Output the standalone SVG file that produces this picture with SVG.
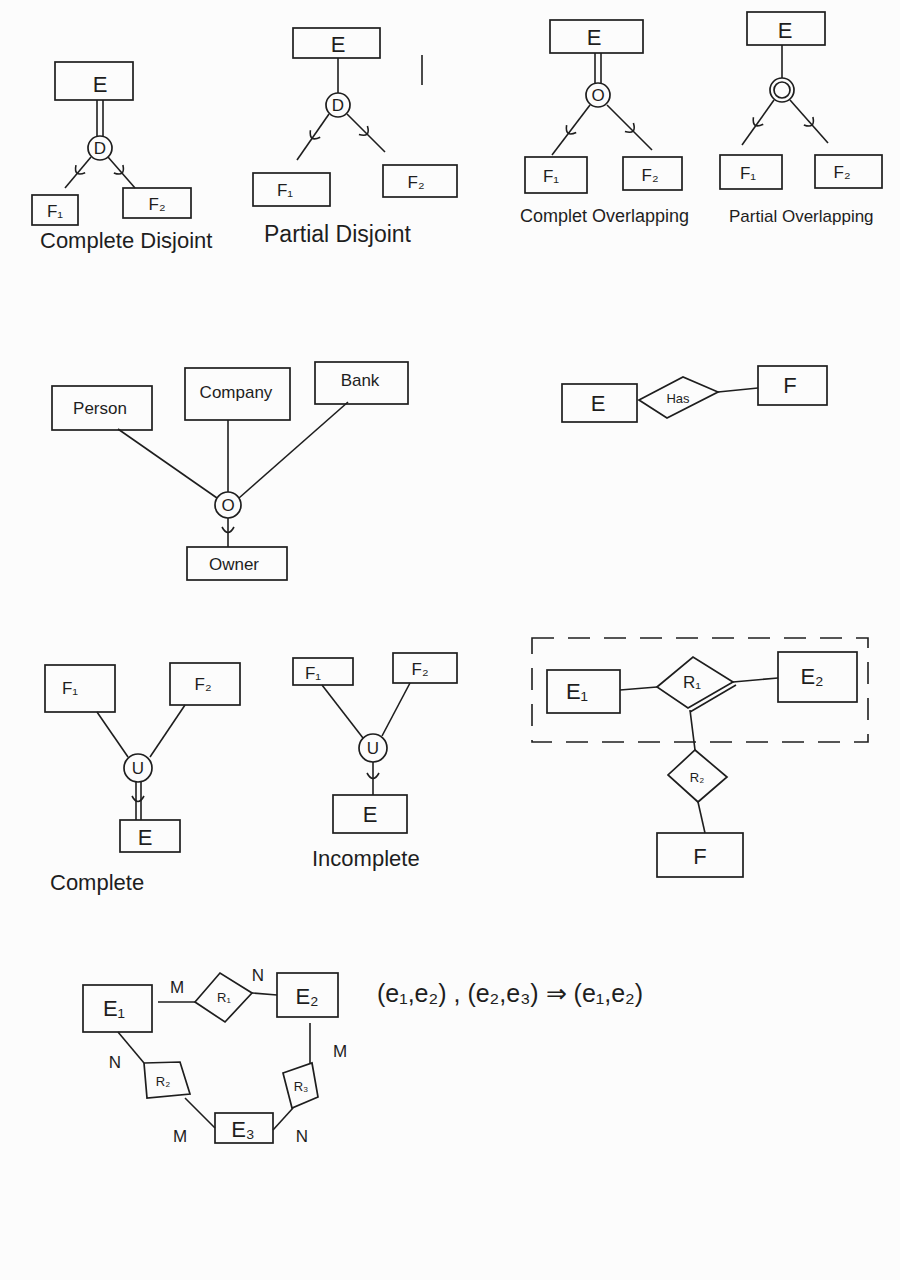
<svg xmlns="http://www.w3.org/2000/svg" width="900" height="1280" viewBox="0 0 900 1280">
<style>
.bg{fill:#fcfcfc}
.box{fill:none;stroke:#1e1e1e;stroke-width:1.7}
.ln{fill:none;stroke:#1e1e1e;stroke-width:1.6}
.dash{fill:none;stroke:#1e1e1e;stroke-width:1.6;stroke-dasharray:22 14}
.t{font-family:"Liberation Sans",Arial,sans-serif;fill:#1e1e1e;text-anchor:middle}
.big{font-size:22px}
.mid{font-size:17px}
.sm{font-size:13px}
.cap{font-family:"Liberation Sans",Arial,sans-serif;fill:#1e1e1e;font-size:22px}
</style>
<defs>
<path id="cup" d="M-6,-4 Q0,7 6,-4" fill="none" stroke="#1e1e1e" stroke-width="1.6"/>
</defs>
<rect class="bg" x="0" y="0" width="900" height="1280"/>

<!-- Group 1: Complete Disjoint -->
<g id="cd-E"><rect class="box" x="55" y="62" width="78" height="38"/><text class="t big" x="100" y="92">E</text></g>
<g id="cd-D"><circle class="box" cx="100" cy="148" r="12"/><text class="t mid" x="100" y="154">D</text></g>
<g id="cd-F1"><rect class="box" x="32" y="195" width="46" height="30"/><text class="t mid" x="55" y="217">F₁</text></g>
<g id="cd-F2"><rect class="box" x="123" y="188" width="68" height="30"/><text class="t mid" x="157" y="210">F₂</text></g>
<text class="cap" x="40" y="248">Complete Disjoint</text>

<!-- Group 2: Partial Disjoint -->
<g id="pd-E"><rect class="box" x="293" y="28" width="87" height="30"/><text class="t big" x="338" y="52">E</text></g>
<g id="pd-D"><circle class="box" cx="338" cy="105" r="12"/><text class="t mid" x="338" y="111">D</text></g>
<g id="pd-F1"><rect class="box" x="253" y="173" width="77" height="33"/><text class="t mid" x="285" y="196">F₁</text></g>
<g id="pd-F2"><rect class="box" x="383" y="165" width="74" height="32"/><text class="t mid" x="416" y="188">F₂</text></g>
<text class="cap" x="264" y="242" style="font-size:23px">Partial Disjoint</text>

<!-- Group 3: Complete Overlapping -->
<g id="co-E"><rect class="box" x="550" y="20" width="93" height="33"/><text class="t big" x="594" y="45">E</text></g>
<g id="co-O"><circle class="box" cx="598" cy="95" r="12"/><text class="t mid" x="598" y="101">O</text></g>
<g id="co-F1"><rect class="box" x="525" y="157" width="62" height="36"/><text class="t mid" x="551" y="182">F₁</text></g>
<g id="co-F2"><rect class="box" x="623" y="157" width="59" height="33"/><text class="t mid" x="650" y="181">F₂</text></g>
<text class="cap" x="520" y="222" style="font-size:18px">Complet Overlapping</text>

<!-- Group 4: Partial Overlapping -->
<g id="po-E"><rect class="box" x="747" y="12" width="78" height="33"/><text class="t big" x="785" y="38">E</text></g>
<g id="po-O"><circle class="box" cx="782" cy="90" r="12"/><circle class="box" cx="782" cy="90" r="8"/></g>
<g id="po-F1"><rect class="box" x="720" y="155" width="62" height="34"/><text class="t mid" x="748" y="179">F₁</text></g>
<g id="po-F2"><rect class="box" x="815" y="155" width="67" height="33"/><text class="t mid" x="842" y="178">F₂</text></g>
<text class="cap" x="729" y="222" style="font-size:17px">Partial Overlapping</text>

<!-- Group 5: Union Owner -->
<g id="u-Person"><rect class="box" x="52" y="386" width="100" height="44"/><text class="t mid" x="100" y="414">Person</text></g>
<g id="u-Company"><rect class="box" x="185" y="368" width="105" height="52"/><text class="t mid" x="236" y="398">Company</text></g>
<g id="u-Bank"><rect class="box" x="315" y="362" width="93" height="42"/><text class="t mid" x="360" y="386">Bank</text></g>
<g id="u-O"><circle class="box" cx="228" cy="505" r="13"/><text class="t mid" x="228" y="511">O</text></g>
<g id="u-Owner"><rect class="box" x="187" y="547" width="100" height="33"/><text class="t mid" x="234" y="570">Owner</text></g>

<!-- Group 6: E Has F -->
<g id="h-E"><rect class="box" x="562" y="384" width="75" height="38"/><text class="t big" x="598" y="411">E</text></g>
<g id="h-Has"><polygon class="box" points="639,400 683,377 718,392 667,418"/><text class="t sm" x="678" y="403">Has</text></g>
<g id="h-F"><rect class="box" x="758" y="366" width="69" height="39"/><text class="t big" x="790" y="393">F</text></g>

<!-- Group 7: Complete union -->
<g id="c-F1"><rect class="box" x="45" y="665" width="70" height="47"/><text class="t mid" x="70" y="694">F₁</text></g>
<g id="c-F2"><rect class="box" x="170" y="663" width="70" height="42"/><text class="t mid" x="203" y="690">F₂</text></g>
<g id="c-U"><circle class="box" cx="138" cy="768" r="14"/><text class="t mid" x="138" y="774">U</text></g>
<g id="c-E"><rect class="box" x="120" y="820" width="60" height="32"/><text class="t big" x="145" y="845">E</text></g>
<text class="cap" x="50" y="890">Complete</text>

<!-- Group 8: Incomplete union -->
<g id="i-F1"><rect class="box" x="293" y="658" width="60" height="27"/><text class="t mid" x="313" y="679">F₁</text></g>
<g id="i-F2"><rect class="box" x="393" y="653" width="64" height="30"/><text class="t mid" x="420" y="675">F₂</text></g>
<g id="i-U"><circle class="box" cx="373" cy="748" r="14"/><text class="t mid" x="373" y="754">U</text></g>
<g id="i-E"><rect class="box" x="333" y="795" width="74" height="38"/><text class="t big" x="370" y="822">E</text></g>
<text class="cap" x="312" y="866">Incomplete</text>

<!-- Group 9: Aggregation -->
<g id="a-agg"><rect class="dash" x="532" y="638" width="336" height="104"/></g>
<g id="a-E1"><rect class="box" x="547" y="670" width="73" height="43"/><text class="t big" x="577" y="699">E₁</text></g>
<g id="a-R1"><polygon class="box" points="657,687 693,657 733,682 688,708"/><line class="ln" x1="690" y1="712" x2="736" y2="685"/><text class="t mid" x="692" y="688">R₁</text></g>
<g id="a-E2"><rect class="box" x="778" y="652" width="79" height="50"/><text class="t big" x="812" y="684">E₂</text></g>
<g id="a-R2"><polygon class="box" points="695,750 727,777 698,802 668,775"/><text class="t sm" x="697" y="782">R₂</text></g>
<g id="a-F"><rect class="box" x="657" y="833" width="86" height="44"/><text class="t big" x="700" y="864">F</text></g>

<!-- Group 10: ternary cycle -->
<g id="t-E1"><rect class="box" x="83" y="985" width="69" height="47"/><text class="t big" x="114" y="1016">E₁</text></g>
<g id="t-R1"><polygon class="box" points="195,1002 220,973 252,993 225,1022"/><text class="t sm" x="224" y="1002">R₁</text></g>
<g id="t-E2"><rect class="box" x="277" y="973" width="61" height="44"/><text class="t big" x="307" y="1004">E₂</text></g>
<g id="t-R2"><polygon class="box" points="144,1063 180,1062 190,1094 147,1098"/><text class="t sm" x="163" y="1086">R₂</text></g>
<g id="t-R3"><polygon class="box" points="283,1073 312,1063 318,1097 292,1108"/><text class="t sm" x="301" y="1091">R₃</text></g>
<g id="t-E3"><rect class="box" x="215" y="1113" width="58" height="30"/><text class="t big" x="243" y="1137">E₃</text></g>
<g id="t-labels">
<text class="t mid" x="177" y="993">M</text>
<text class="t mid" x="258" y="981">N</text>
<text class="t mid" x="115" y="1068">N</text>
<text class="t mid" x="340" y="1057">M</text>
<text class="t mid" x="180" y="1142">M</text>
<text class="t mid" x="302" y="1142">N</text>
</g>
<text class="cap" x="377" y="1002" style="font-size:25px">(e₁,e₂) , (e₂,e₃) ⇒ (e₁,e₂)</text>

<!-- connectors -->
<g id="connectors">
<line class="ln" x1="97" y1="100" x2="97" y2="136"/>
<line class="ln" x1="103" y1="100" x2="103" y2="136"/>
<line class="ln" x1="91" y1="157" x2="65" y2="188"/>
<use href="#cup" transform="translate(78,172) rotate(40)"/>
<line class="ln" x1="108" y1="157" x2="135" y2="188"/>
<use href="#cup" transform="translate(121,172) rotate(-41)"/>

<line class="ln" x1="338" y1="58" x2="338" y2="93"/>
<line class="ln" x1="329" y1="114" x2="297" y2="160"/>
<use href="#cup" transform="translate(313,137) rotate(35)"/>
<line class="ln" x1="347" y1="114" x2="385" y2="152"/>
<use href="#cup" transform="translate(366,133) rotate(-45)"/>
<line class="ln" x1="422" y1="55" x2="422" y2="85"/>

<line class="ln" x1="595" y1="53" x2="595" y2="83"/>
<line class="ln" x1="601" y1="53" x2="601" y2="83"/>
<line class="ln" x1="590" y1="105" x2="552" y2="155"/>
<use href="#cup" transform="translate(569,132) rotate(37)"/>
<line class="ln" x1="607" y1="105" x2="652" y2="150"/>
<use href="#cup" transform="translate(632,130) rotate(-45)"/>

<line class="ln" x1="782" y1="45" x2="782" y2="78"/>
<line class="ln" x1="774" y1="100" x2="742" y2="145"/>
<use href="#cup" transform="translate(756,124) rotate(35)"/>
<line class="ln" x1="790" y1="100" x2="828" y2="143"/>
<use href="#cup" transform="translate(811,124) rotate(-41)"/>

<line class="ln" x1="118" y1="429" x2="217" y2="498"/>
<line class="ln" x1="228" y1="420" x2="228" y2="492"/>
<line class="ln" x1="348" y1="402" x2="239" y2="498"/>
<line class="ln" x1="228" y1="518" x2="228" y2="547"/>
<use href="#cup" transform="translate(228,531)"/>

<line class="ln" x1="718" y1="392" x2="758" y2="388"/>

<line class="ln" x1="97" y1="712" x2="128" y2="757"/>
<line class="ln" x1="185" y1="705" x2="150" y2="757"/>
<line class="ln" x1="136" y1="782" x2="136" y2="820"/>
<line class="ln" x1="141" y1="782" x2="141" y2="820"/>
<use href="#cup" transform="translate(138,800)"/>

<line class="ln" x1="322" y1="685" x2="363" y2="738"/>
<line class="ln" x1="410" y1="683" x2="382" y2="736"/>
<line class="ln" x1="373" y1="762" x2="373" y2="795"/>
<use href="#cup" transform="translate(373,777)"/>

<line class="ln" x1="620" y1="690" x2="657" y2="687"/>
<line class="ln" x1="733" y1="682" x2="778" y2="678"/>
<line class="ln" x1="690" y1="710" x2="695" y2="750"/>
<line class="ln" x1="698" y1="802" x2="705" y2="833"/>

<line class="ln" x1="158" y1="1002" x2="195" y2="1002"/>
<line class="ln" x1="252" y1="993" x2="277" y2="995"/>
<line class="ln" x1="118" y1="1032" x2="144" y2="1063"/>
<line class="ln" x1="185" y1="1098" x2="215" y2="1128"/>
<line class="ln" x1="310" y1="1023" x2="310" y2="1063"/>
<line class="ln" x1="293" y1="1108" x2="273" y2="1130"/>
</g>
</svg>
